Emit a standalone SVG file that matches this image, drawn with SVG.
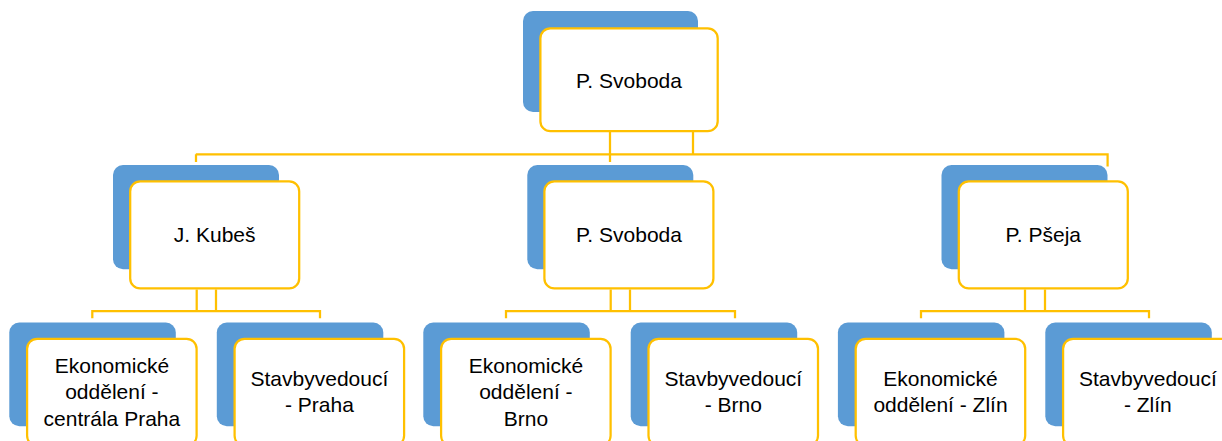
<svg xmlns="http://www.w3.org/2000/svg" width="1222" height="441" viewBox="0 0 1222 441">
<style>
.bk{fill:#5B9BD5}
.fr{fill:#FFFFFF;stroke:#FFC000;stroke-width:2.25}
.cn{fill:none;stroke:#FFC000;stroke-width:2.25}
.t{font-family:"Liberation Sans",Arial,sans-serif;font-size:21px;fill:#000000;text-anchor:middle}
</style>
<rect width="1222" height="441" fill="#FFFFFF"/>
<g id="connectors">
<path class="cn" d="M610,132 V162 M693,132 V154.3 M195.8,154.3 H1107.6 V166.5 M196,154.3 V162"/>
<path class="cn" d="M196.7,289.5 V311 M216,289.5 V311 M92.3,318.3 V311 H320 V318.3"/>
<path class="cn" d="M610.7,289.5 V311 M630,289.5 V311 M506,318.3 V311 H735 V318.3"/>
<path class="cn" d="M1025,289.5 V311 M1045,289.5 V311 M921,318.3 V311 H1149 V318.3"/>
</g>
<g id="n-top">
<rect class="bk" x="523" y="11" width="175" height="101" rx="10"/>
<rect class="fr" x="540.4" y="28.4" width="177.3" height="102.8" rx="10"/>
<text class="t" x="629" y="87.5">P. Svoboda</text>
</g>
<g id="n-kubes">
<rect class="bk" x="113" y="165" width="166" height="104.3" rx="10"/>
<rect class="fr" x="130.2" y="181.4" width="169" height="107" rx="10"/>
<text class="t" x="214.7" y="241.7">J. Kubeš</text>
</g>
<g id="n-svoboda2">
<rect class="bk" x="527.3" y="165" width="166" height="104.3" rx="10"/>
<rect class="fr" x="544.4" y="181.4" width="169" height="107" rx="10"/>
<text class="t" x="629" y="241.7">P. Svoboda</text>
</g>
<g id="n-pseja">
<rect class="bk" x="941.5" y="165" width="166" height="104.3" rx="10"/>
<rect class="fr" x="958.8" y="181.4" width="169" height="107" rx="10"/>
<text class="t" x="1043.3" y="241.7">P. Pšeja</text>
</g>
<g id="n-ek-praha">
<rect class="bk" x="9.3" y="322.5" width="166.5" height="103.7" rx="10"/>
<rect class="fr" x="27.1" y="338.8" width="169.5" height="107" rx="10"/>
<text class="t" x="111.9" y="372.7">Ekonomické</text>
<text class="t" x="111.9" y="399.3">oddělení -</text>
<text class="t" x="111.9" y="426">centrála Praha</text>
</g>
<g id="n-st-praha">
<rect class="bk" x="216.8" y="322.5" width="166.5" height="103.7" rx="10"/>
<rect class="fr" x="234.6" y="338.8" width="169.5" height="107" rx="10"/>
<text class="t" x="319.4" y="385.5">Stavbyvedoucí</text>
<text class="t" x="319.4" y="412">- Praha</text>
</g>
<g id="n-ek-brno">
<rect class="bk" x="423.3" y="322.5" width="166.5" height="103.7" rx="10"/>
<rect class="fr" x="441.1" y="338.8" width="169.5" height="107" rx="10"/>
<text class="t" x="525.9" y="372.7">Ekonomické</text>
<text class="t" x="525.9" y="399.3">oddělení -</text>
<text class="t" x="525.9" y="426">Brno</text>
</g>
<g id="n-st-brno">
<rect class="bk" x="630.7" y="322.5" width="166.5" height="103.7" rx="10"/>
<rect class="fr" x="648.5" y="338.8" width="169.5" height="107" rx="10"/>
<text class="t" x="733.3" y="385.5">Stavbyvedoucí</text>
<text class="t" x="733.3" y="412">- Brno</text>
</g>
<g id="n-ek-zlin">
<rect class="bk" x="837.9" y="322.5" width="166.5" height="103.7" rx="10"/>
<rect class="fr" x="855.7" y="338.8" width="169.5" height="107" rx="10"/>
<text class="t" x="940.5" y="385.5">Ekonomické</text>
<text class="t" x="940.5" y="412">oddělení - Zlín</text>
</g>
<g id="n-st-zlin">
<rect class="bk" x="1045.3" y="322.5" width="166.5" height="103.7" rx="10"/>
<rect class="fr" x="1063.1" y="338.8" width="169.5" height="107" rx="10"/>
<text class="t" x="1147.9" y="385.5">Stavbyvedoucí</text>
<text class="t" x="1147.9" y="412">- Zlín</text>
</g>
</svg>
